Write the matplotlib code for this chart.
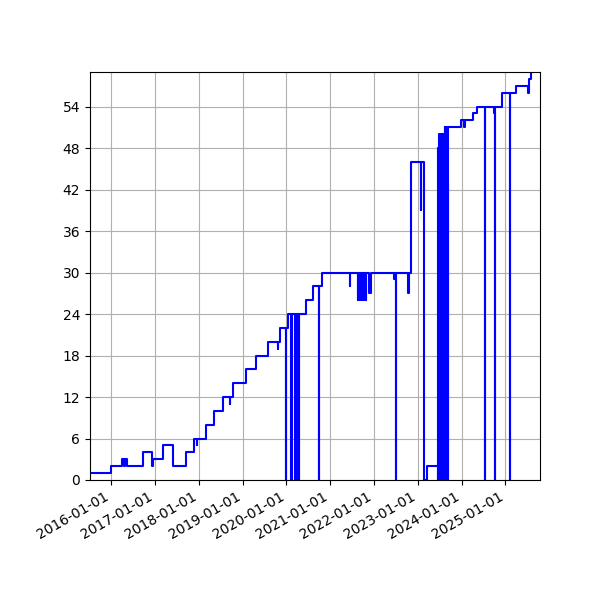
import numpy as np
import pandas as pd
import matplotlib
matplotlib.use("Agg")
import matplotlib.pyplot as plt
import matplotlib.dates as mdates
from matplotlib.ticker import MultipleLocator

# change points of the step series (date, new value)
change_dates = [
    "2015-07-07", "2015-12-28", "2016-04-01", "2016-04-18", "2016-04-22",
    "2016-05-13", "2016-09-19", "2016-12-06", "2016-12-10", "2017-03-05",
    "2017-05-28", "2017-09-13", "2017-11-18", "2017-12-12", "2017-12-16",
    "2018-02-27", "2018-05-09", "2018-07-18", "2018-09-16", "2018-09-20",
    "2018-10-10", "2019-01-29", "2019-04-22", "2019-08-03", "2019-10-19",
    "2019-10-23", "2019-11-11", "2019-12-30", "2020-01-01", "2020-01-12",
    "2020-02-11", "2020-02-13", "2020-03-15", "2020-03-17", "2020-03-31",
    "2020-04-02", "2020-04-11", "2020-04-14", "2020-06-10", "2020-08-12",
    "2020-09-30", "2020-10-02", "2020-10-26", "2021-06-12", "2021-06-16",
    "2021-08-20", "2021-08-24", "2021-09-06", "2021-09-10", "2021-09-22",
    "2021-09-26", "2021-10-08", "2021-10-12", "2021-10-24", "2021-10-28",
    "2021-11-18", "2021-12-08", "2022-06-17", "2022-06-21", "2022-07-02",
    "2022-07-04", "2022-10-12", "2022-10-16", "2022-11-03", "2023-01-24",
    "2023-01-27", "2023-02-24", "2023-03-16", "2023-06-16", "2023-06-18",
    "2023-06-28", "2023-06-30", "2023-07-08", "2023-07-10", "2023-07-18",
    "2023-07-20", "2023-07-28", "2023-07-30", "2023-08-08", "2023-08-10",
    "2023-08-16", "2023-08-20", "2023-08-22", "2023-08-28", "2023-08-30",
    "2023-09-04", "2023-09-08", "2023-09-10", "2023-09-12", "2023-12-28",
    "2024-01-20", "2024-01-26", "2024-04-03", "2024-05-07", "2024-07-12",
    "2024-07-15", "2024-07-17", "2024-09-26", "2024-10-06", "2024-10-08",
    "2024-12-01", "2025-02-07", "2025-02-09", "2025-03-30", "2025-07-10",
    "2025-07-14", "2025-07-30", "2025-08-02",
]
change_values = [
    1, 2, 3, 2, 3,
    2, 4, 2, 3, 5,
    2, 4, 6, 5, 6,
    8, 10, 12, 11, 12,
    14, 16, 18, 20, 19,
    20, 22, 0, 22, 24,
    0, 24, 0, 24, 0,
    24, 0, 24, 26, 28,
    0, 28, 30, 28, 30,
    26, 30, 26, 30, 26,
    30, 26, 30, 26, 30,
    27, 30, 29, 30, 0,
    30, 27, 30, 46, 39,
    46, 0, 2, 0, 48,
    0, 50, 0, 50, 0,
    50, 0, 50, 0, 50,
    51, 0, 51, 0, 51,
    43, 0, 51, 51, 52,
    51, 52, 53, 54, 53,
    0, 54, 53, 0, 54,
    56, 0, 56, 57, 56,
    58, 59, 59,
]

x_start = "2015-07-07"
x_end = "2025-10-17"

dates = pd.to_datetime(change_dates)
values = np.array(change_values)

fig, ax = plt.subplots(figsize=(6, 6), dpi=100)
ax.step(dates, values, where="post", color="blue")

ax.set_xlim(pd.Timestamp(x_start), pd.Timestamp(x_end))
ax.set_ylim(0, 59)
ax.yaxis.set_major_locator(MultipleLocator(6))
ax.xaxis.set_major_locator(mdates.YearLocator())
ax.xaxis.set_major_formatter(mdates.DateFormatter("%Y-%m-%d"))
ax.grid(True)

fig.autofmt_xdate()
fig.subplots_adjust(left=0.15, right=0.9, top=0.88, bottom=0.2)
fig.savefig("out.png")
